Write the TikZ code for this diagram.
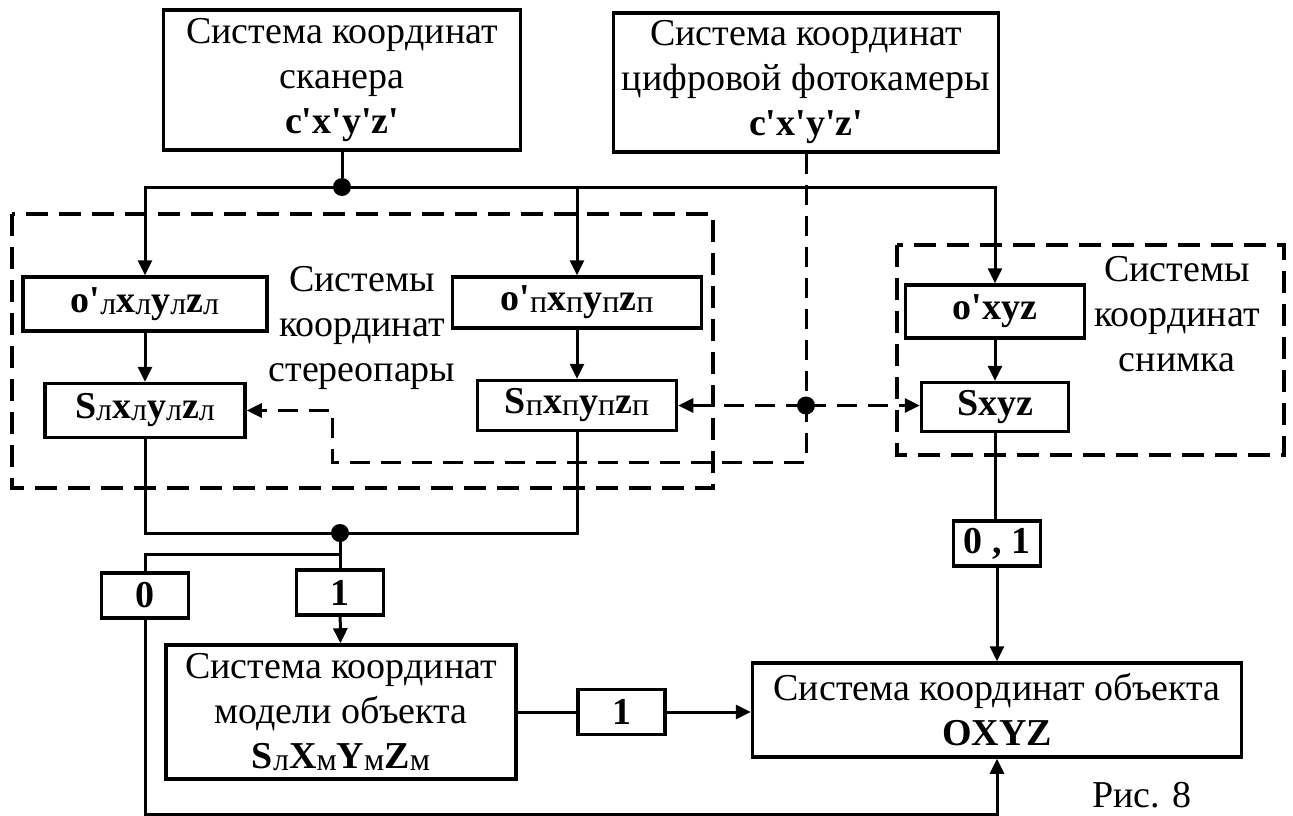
\documentclass[tikz,border=0pt]{standalone}
\usepackage{fontspec}
\setmainfont{Liberation Serif}
\usetikzlibrary{arrows.meta,positioning}
\newcommand{\prm}{\textquotesingle}
\newcommand{\idx}[1]{{\mdseries\fontsize{32}{32}\selectfont\raisebox{-2pt}{#1}}}
\tikzset{
  sysbox/.style={
    rectangle, draw, line width=3.5pt, align=center, inner sep=0pt,
    font=\fontsize{38}{45}\selectfont
  },
  fmlbox/.style={sysbox, font=\fontsize{38}{45}\selectfont\bfseries},
  flagbox/.style={sysbox, minimum width=87pt, minimum height=45pt,
    font=\fontsize{38}{45}\selectfont\bfseries},
  link/.style={line width=3pt},
  linkarrow/.style={link, -{Triangle[length=15pt,width=14pt]}},
  dashlink/.style={link, dash pattern=on 20pt off 11pt},
  groupframe/.style={line width=3.5pt, dash pattern=on 22pt off 11pt},
  junction/.style={circle, fill, inner sep=0pt, minimum size=18pt},
  grouplabel/.style={align=center, font=\fontsize{38}{45}\selectfont},
}
\begin{document}
\begin{tikzpicture}[x=1pt, y=-1pt]
  \useasboundingbox (0,0) rectangle (1293,816);

  % source systems
  \node[sysbox, minimum width=357pt, minimum height=140pt] (scan) at (342,80)
    {Система координат\\сканера\\\textbf{c\prm x\prm y\prm z\prm}};
  \node[sysbox, minimum width=385pt, minimum height=139pt] (cam) at (806,82.5)
    {Система координат\\цифровой фотокамеры\\\textbf{c\prm x\prm y\prm z\prm}};

  % stereo pair and image systems
  \node[fmlbox, minimum width=244pt, minimum height=54pt] (ol) at (145,304)
    {o\prm\idx{л}x\idx{л}y\idx{л}z\idx{л}};
  \node[fmlbox, minimum width=200pt, minimum height=54pt, below=49pt of ol] (sl)
    {S\idx{л}x\idx{л}y\idx{л}z\idx{л}};
  \node[fmlbox, minimum width=249pt, minimum height=51pt] (op) at (577,302.5)
    {o\prm\idx{п}x\idx{п}y\idx{п}z\idx{п}};
  \node[fmlbox, minimum width=199pt, minimum height=50pt, below=49pt of op] (sp)
    {S\idx{п}x\idx{п}y\idx{п}z\idx{п}};
  \node[fmlbox, minimum width=179pt, minimum height=53pt] (oc) at (995,311.5)
    {o\prm xyz};
  \node[fmlbox, minimum width=147pt, minimum height=49pt, below=41pt of oc] (sc)
    {Sxyz};

  \node[grouplabel] (stereolbl) at (362,328) {Системы\\координат\\стереопары};
  \node[grouplabel] (imagelbl) at (1177,314) {Системы\\координат\\снимка};

  \draw[groupframe] (12,214) rectangle (713,488);
  \draw[groupframe] (897,245) rectangle (1284,455);

  % model and object systems
  \node[sysbox, minimum width=350pt, minimum height=134pt] (model) at (341,712)
    {Система координат\\модели объекта\\\textbf{S\idx{л}X\idx{м}Y\idx{м}Z\idx{м}}};
  \node[sysbox, minimum width=489pt, minimum height=94pt] (obj) at (997,710)
    {Система координат объекта\\\textbf{OXYZ}};

  \node[flagbox] (zero) at (145,595.5) {0};
  \node[flagbox] (one) at (340,592.5) {1};
  \node[flagbox] (onemid) at (621.5,712) {1};
  \node[flagbox] (zeroone) at (997,543.5) {0 , 1};

  \node[font=\fontsize{38}{45}\selectfont] (figno) at (1142,795) {Рис. 8};

  % scanner feed
  \node[junction] (scanfork) at (342,187) {};
  \draw[link] (scan.south) -- (scanfork);
  \draw[linkarrow] (scanfork.center) -| (ol.north);
  \draw[linkarrow] (scanfork.center) -| (op.north);
  \draw[linkarrow] (scanfork.center) -| (oc.north);
  \draw[linkarrow] (ol) -- (sl);
  \draw[linkarrow] (op) -- (sp);
  \draw[linkarrow] (oc) -- (sc);

  % camera feed
  \node[junction] (camfork) at (cam.south |- sp.east) {};
  \coordinate (loopbend) at (332,462);
  \draw[dashlink, -{Triangle[length=15pt,width=14pt]}]
    (cam.south) |- (loopbend) |- (sl.east);
  \draw[dashlink, -{Triangle[length=15pt,width=14pt]}] (camfork.center) -- (sp.east);
  \draw[dashlink, -{Triangle[length=15pt,width=14pt]}] (camfork.center) -- (camfork.center -| sc.west);

  % merge of the stereo pair
  \node[junction] (merge) at (340,533) {};
  \draw[link] (sl.south) |- (merge.center) -| (sp.south);
  \draw[link] (merge.center) -- (one.north);
  \coordinate (branch) at (340,554);
  \draw[link] (branch) -| (zero.north);
  \draw[linkarrow] (one) -- (model);
  \draw[linkarrow] (zero.south) -- ++(0,195) -| (obj.south);

  \draw[link] (model) -- (onemid);
  \draw[linkarrow] (onemid.east) -- (onemid.east -| obj.west);
  \draw[link] (sc.south) -- (sc.south |- zeroone.north);
  \draw[linkarrow] (zeroone) -- (obj);
\end{tikzpicture}
\end{document}
